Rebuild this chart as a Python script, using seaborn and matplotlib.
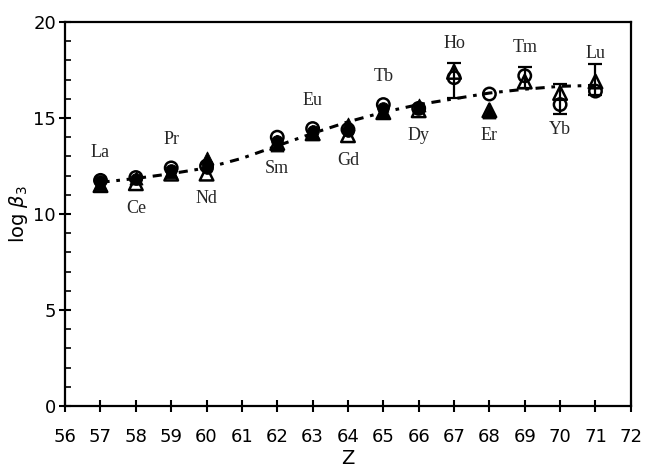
import numpy as np
import pandas as pd
import seaborn as sns
import matplotlib.pyplot as plt
from matplotlib.ticker import MultipleLocator

# Atomic number and element names
z = [57, 58, 59, 60, 62, 63, 64, 65, 66, 67, 68, 69, 70, 71]
elements = ["La", "Ce", "Pr", "Nd", "Sm", "Eu", "Gd", "Tb", "Dy", "Ho", "Er", "Tm", "Yb", "Lu"]
label_side = ["up", "down", "up", "down", "down", "up", "down", "up", "down", "up", "down", "up", "down", "up"]

# log beta3 values (four overlapping data sets)
open_circle = [11.75, 11.9, 12.4, 12.5, 14.0, 14.45, 14.4, 15.7, 15.5, 17.1, 16.25, 17.2, 15.7, 16.4]
filled_circle = [11.7, 11.8, 12.3, 12.4, 13.8, 14.3, 14.3, 15.5, 15.5, None, None, None, None, None]
open_triangle = [11.5, 11.6, 12.1, 12.1, 13.7, 14.2, 14.1, 15.3, 15.4, 17.4, 15.4, 16.9, 16.3, 16.9]
filled_triangle = [11.55, 11.85, 12.2, 12.9, 13.6, 14.2, 14.7, 15.3, 15.7, None, 15.3, None, None, None]

# error bars (Ho, Tm, Yb, Lu)
err_z = [67, 69, 70, 71]
err_center = [16.95, 17.1, 16.0, 17.0]
err_half = [0.9, 0.55, 0.78, 0.8]

# fitted trend (dash-dot line)
fit_z = [57, 58, 59, 60, 61, 62, 63, 64, 65, 66, 67, 68, 69, 70, 71]
fit_val = [11.65, 11.85, 12.1, 12.4, 12.9, 13.55, 14.2, 14.8, 15.3, 15.7, 16.0, 16.3, 16.5, 16.65, 16.7]

fig = plt.figure(figsize=(6.45, 4.68), dpi=100)
ax = fig.add_axes([0.101, 0.1325, 0.877, 0.8205])
sns.set_style("ticks")
plt.rcParams["font.family"] = ["Liberation Sans", "DejaVu Sans"]

fit = pd.DataFrame({"Z": fit_z, "v": fit_val})
sns.lineplot(data=fit, x="Z", y="v", ax=ax, color="black", lw=2.2,
             dashes=False, zorder=1)
ax.lines[-1].set_dashes([3, 2.2, 1.2, 2.2])

ax.errorbar(err_z, err_center, yerr=err_half, fmt="none", ecolor="black",
            elinewidth=1.6, capsize=5, capthick=1.6, zorder=2)

df = pd.DataFrame({"Z": z, "oc": open_circle, "fc": filled_circle,
                   "ot": open_triangle, "ft": filled_triangle})

sns.scatterplot(data=df.dropna(subset=["fc"]), x="Z", y="fc", ax=ax, marker="o", s=70,
                color="black", edgecolor="black", zorder=3)
sns.scatterplot(data=df.dropna(subset=["ft"]), x="Z", y="ft", ax=ax, marker="^", s=85,
                color="black", edgecolor="black", zorder=3)
sns.scatterplot(data=df, x="Z", y="oc", ax=ax, marker="o", s=80,
                facecolor="none", edgecolor="black", linewidth=1.8, zorder=4)
sns.scatterplot(data=df, x="Z", y="ot", ax=ax, marker="^", s=95,
                facecolor="none", edgecolor="black", linewidth=1.8, zorder=4)

# element labels above / below the points
for i, (zi, name, side) in enumerate(zip(z, elements, label_side)):
    if side == "up":
        top = max(open_circle[i], open_triangle[i])
        ax.annotate(name, (zi, top), xytext=(0, 14), textcoords="offset points",
                    ha="center", va="bottom", fontsize=13, family="Liberation Serif")
    else:
        bottom = min(open_circle[i], open_triangle[i])
        ax.annotate(name, (zi, bottom), xytext=(0, -12), textcoords="offset points",
                    ha="center", va="top", fontsize=13, family="Liberation Serif")

ax.set_xlim(56, 72)
ax.set_ylim(0, 20)
ax.xaxis.set_major_locator(MultipleLocator(1))
ax.yaxis.set_major_locator(MultipleLocator(5))
ax.yaxis.set_minor_locator(MultipleLocator(1))
ax.tick_params(axis="both", which="major", direction="inout", length=9, width=1.5,
               labelsize=13)
ax.tick_params(axis="y", which="minor", direction="in", length=4, width=1.2)
ax.tick_params(axis="x", which="major", pad=11)
ax.tick_params(axis="y", which="major", pad=2)
for sp in ax.spines.values():
    sp.set_linewidth(1.6)
    sp.set_visible(True)

ax.set_xlabel("Z", fontsize=14)
ax.set_ylabel(r"log $\beta_3$", fontsize=14)
ax.xaxis.set_label_coords(0.5, -0.112)
ax.yaxis.set_label_coords(-0.062, 0.5)

fig.savefig("out.png", dpi=100)
